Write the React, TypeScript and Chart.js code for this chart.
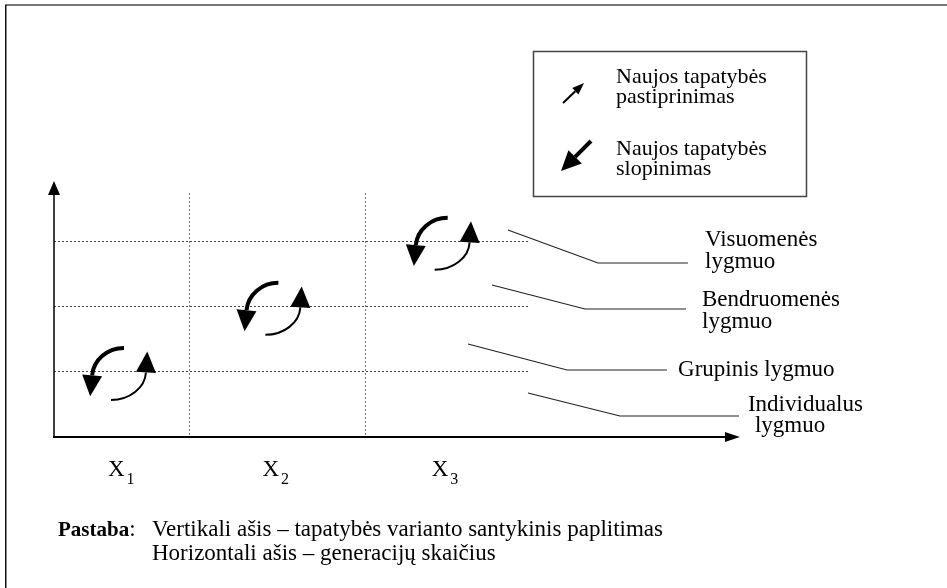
import React, { useEffect, useRef } from 'react';
import { Chart, registerables } from 'chart.js';

Chart.register(...registerables);

// ---- data ----
const generationSubscripts = ['1', '2', '3'];
const generationX = [0.48, 1.62, 2.87]; // generation centres (cycle positions)
const generationBounds = [1.0, 2.3]; // dotted generation dividers
const levelValues = [1, 2, 3]; // dotted level lines
const cycleLevels = [1, 2, 3]; // level of each cycle
const levelNames = [
  ['Individualus', 'lygmuo'],
  ['Grupinis lygmuo'],
  ['Bendruomenės', 'lygmuo'],
  ['Visuomenės', 'lygmuo'],
];
const legendLabels = [
  ['Naujos tapatybės', 'pastiprinimas'],
  ['Naujos tapatybės', 'slopinimas'],
];
const noteTitle = 'Pastaba';
const noteLines = [
  'Vertikali ašis – tapatybės varianto santykinis paplitimas',
  'Horizontali ašis – generacijų skaičius',
];

// ---- layout (scale units) ----
const X_MAX = 3.5;
const Y_MAX = 3.75;
const axisEnd = { x: 5.065, y: 3.934 };
const leaderLayout = [
  { pts: [[3.5, 0.676], [4.179, 0.323], [5.058, 0.323]], text: [[5.124, 0.4], [5.176, 0.077]] },
  { pts: [[3.057, 1.429], [3.788, 1.03], [4.526, 1.03]], text: [[4.608, 0.937]] },
  { pts: [[3.234, 2.336], [3.921, 1.967], [4.667, 1.967]], text: [[4.785, 2.013], [4.785, 1.675]] },
  { pts: [[3.352, 3.181], [4.017, 2.674], [4.681, 2.674]], text: [[4.807, 2.935], [4.807, 2.597]] },
];

const FONT = '"Liberation Serif", "Times New Roman", serif';

function arrowHead(ctx: CanvasRenderingContext2D, bx: number, by: number, dx: number, dy: number, len: number, w: number) {
  const n = Math.hypot(dx, dy);
  const ux = dx / n, uy = dy / n;
  const px = -uy, py = ux;
  ctx.beginPath();
  ctx.moveTo(bx + px * w / 2, by + py * w / 2);
  ctx.lineTo(bx + ux * len, by + uy * len);
  ctx.lineTo(bx - px * w / 2, by - py * w / 2);
  ctx.closePath();
  ctx.fill();
}

function drawCycle(ctx: CanvasRenderingContext2D, ax: number, ay: number) {
  ctx.save();
  ctx.strokeStyle = '#000';
  ctx.fillStyle = '#000';
  ctx.lineCap = 'butt';
  // thick arc (top -> left, arrow down)
  {
    const cx = ax + 5, cy = ay + 6, rx = 32, ry = 30;
    const a0 = -Math.PI / 2, a1 = (185 * Math.PI) / 180;
    ctx.lineWidth = 4;
    ctx.beginPath();
    ctx.ellipse(cx, cy, rx, ry, 0, a0, a1, true);
    ctx.stroke();
    const ex = cx + rx * Math.cos(a1), ey = cy + ry * Math.sin(a1);
    arrowHead(ctx, ex, ey, rx * Math.sin(a1), -ry * Math.cos(a1), 21, 20);
  }
  // thin arc (bottom -> right, arrow up)
  {
    const cx = ax - 8, cy = ay - 1, rx = 35, ry = 29;
    const a0 = Math.PI / 2, a1 = (3 * Math.PI) / 180;
    ctx.lineWidth = 2;
    ctx.beginPath();
    ctx.ellipse(cx, cy, rx, ry, 0, a0, a1, true);
    ctx.stroke();
    const ex = cx + rx * Math.cos(a1), ey = cy + ry * Math.sin(a1);
    arrowHead(ctx, ex, ey, rx * Math.sin(a1), -ry * Math.cos(a1), 21, 20);
  }
  ctx.restore();
}

function lineArrow(ctx: CanvasRenderingContext2D, x0: number, y0: number, x1: number, y1: number, lw: number, hl: number, hw: number) {
  const dx = x1 - x0, dy = y1 - y0;
  const n = Math.hypot(dx, dy);
  const bx = x1 - (dx / n) * hl, by = y1 - (dy / n) * hl;
  ctx.lineWidth = lw;
  ctx.beginPath();
  ctx.moveTo(x0, y0);
  ctx.lineTo(bx, by);
  ctx.stroke();
  arrowHead(ctx, bx, by, dx, dy, hl, hw);
}

const diagramPlugin = {
  id: 'diagram',
  afterDraw(chart: any) {
    const { ctx } = chart;
    const xs = chart.scales.x, ys = chart.scales.y;
    const X = (v: number) => xs.getPixelForValue(v);
    const Y = (v: number) => ys.getPixelForValue(v);
    ctx.save();

    // frame (top and left edges)
    ctx.fillStyle = '#777';
    ctx.fillRect(5, 4, 942, 2);
    ctx.fillStyle = '#111';
    ctx.fillRect(5, 5, 1.5, 583);

    // axes
    ctx.strokeStyle = '#000';
    ctx.fillStyle = '#000';
    const ox = X(0), oy = Y(0);
    ctx.lineWidth = 1.5;
    ctx.beginPath();
    ctx.moveTo(ox, oy + 1);
    ctx.lineTo(ox, Y(axisEnd.y) + 13);
    ctx.stroke();
    arrowHead(ctx, ox, Y(axisEnd.y) + 14, 0, -1, 14, 12);
    ctx.lineWidth = 2;
    ctx.beginPath();
    ctx.moveTo(ox - 1, oy);
    ctx.lineTo(X(axisEnd.x) - 14, oy);
    ctx.stroke();
    arrowHead(ctx, X(axisEnd.x) - 15, oy, 1, 0, 15, 10);

    // cycles
    const meta = chart.getDatasetMeta(0);
    meta.data.forEach((pt: any) => drawCycle(ctx, pt.x, pt.y));

    // leaders and level labels
    ctx.strokeStyle = '#222';
    ctx.lineWidth = 1.2;
    ctx.font = `23px ${FONT}`;
    ctx.textBaseline = 'alphabetic';
    ctx.textAlign = 'left';
    leaderLayout.forEach((l, i) => {
      ctx.beginPath();
      l.pts.forEach((p, j) => (j ? ctx.lineTo(X(p[0]), Y(p[1])) : ctx.moveTo(X(p[0]), Y(p[1]))));
      ctx.stroke();
      levelNames[i].forEach((t, j) => {
        const p = l.text[j];
        ctx.fillText(t, X(p[0]), Y(p[1]));
      });
    });

    // legend box
    ctx.strokeStyle = '#444';
    ctx.lineWidth = 1.5;
    ctx.strokeRect(533.5, 51.5, 273, 145);
    ctx.fillStyle = '#000';
    ctx.strokeStyle = '#000';
    ctx.font = `22px ${FONT}`;
    const legendBase = [83, 155];
    legendLabels.forEach((lines, i) => {
      lines.forEach((t, j) => ctx.fillText(t, 616, legendBase[i] + j * 20));
    });
    lineArrow(ctx, 563, 103, 584, 83, 2, 12, 9);
    lineArrow(ctx, 591, 141, 561, 171, 4, 20, 19);

    // generation labels
    generationX.forEach((g, i) => {
      const px = X(g);
      ctx.font = `23px ${FONT}`;
      ctx.fillText('X', px - 11, 476);
      const w = ctx.measureText('X').width;
      ctx.font = `16px ${FONT}`;
      ctx.fillText(generationSubscripts[i], px - 11 + w + 2, 484);
    });

    // note
    ctx.font = `bold 21px ${FONT}`;
    ctx.fillText(noteTitle, 58, 536);
    const tw = ctx.measureText(noteTitle).width;
    ctx.font = `23px ${FONT}`;
    ctx.fillText(':', 58 + tw, 536);
    noteLines.forEach((t, i) => ctx.fillText(t, 152, 536 + i * 24));

    ctx.restore();
  },
};

export default function App() {
  const ref = useRef<HTMLCanvasElement>(null);
  useEffect(() => {
    document.body.style.margin = '0';
    document.body.style.background = '#fff';
    const canvas = ref.current!;
    const chart = new Chart(canvas, {
      type: 'scatter',
      data: {
        datasets: [
          {
            data: generationX.map((g, i) => ({ x: g, y: cycleLevels[i] })),
            pointRadius: 0,
            pointHoverRadius: 0,
          },
        ],
      },
      options: {
        responsive: false,
        animation: false,
        events: [],
        layout: { padding: { left: 54, top: 193, right: 947 - 528, bottom: 588 - 437 } },
        plugins: { legend: { display: false }, tooltip: { enabled: false } },
        scales: {
          x: {
            type: 'linear',
            min: 0,
            max: X_MAX,
            afterBuildTicks: (s: any) => {
              s.ticks = generationBounds.map((v) => ({ value: v }));
            },
            ticks: { display: false },
            grid: { color: '#777', lineWidth: 1, drawTicks: false },
            border: { display: false, dash: [2, 2] },
          },
          y: {
            type: 'linear',
            min: 0,
            max: Y_MAX,
            afterBuildTicks: (s: any) => {
              s.ticks = levelValues.map((v) => ({ value: v }));
            },
            ticks: { display: false },
            grid: { color: '#444', lineWidth: 1, drawTicks: false },
            border: { display: false, dash: [2, 2] },
          },
        },
      },
      plugins: [diagramPlugin],
    });
    return () => chart.destroy();
  }, []);
  return (
    <div style={{ width: 947, height: 588, background: '#fff' }}>
      <canvas ref={ref} width={947} height={588} />
    </div>
  );
}
